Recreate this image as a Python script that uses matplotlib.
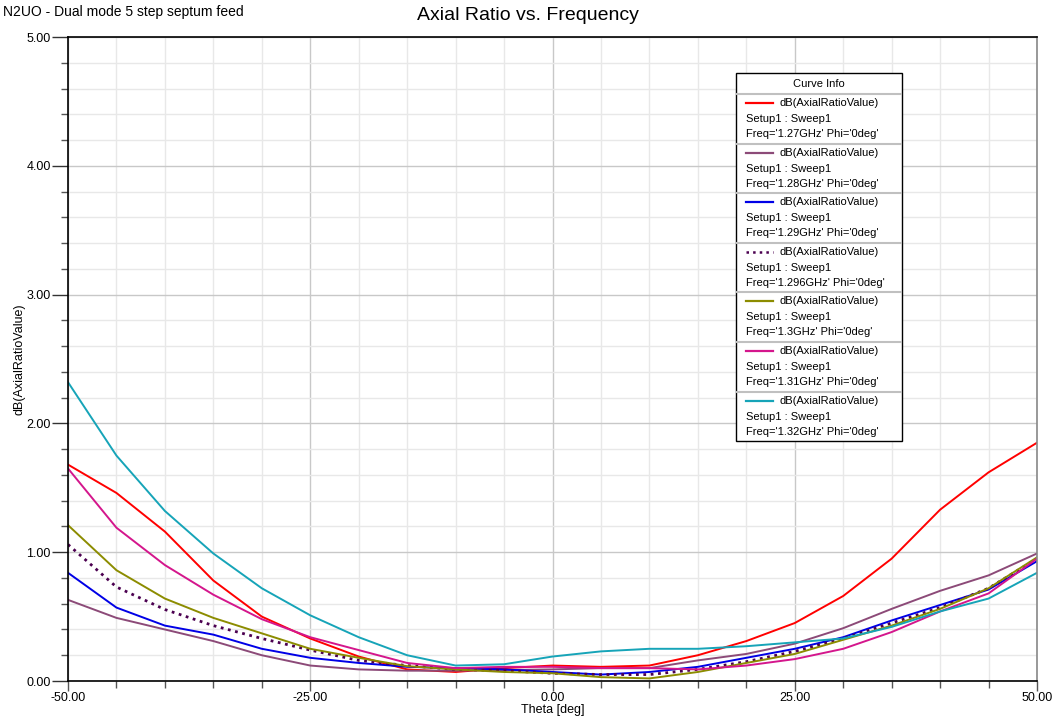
import numpy as np
import matplotlib
matplotlib.use("Agg")
import matplotlib.pyplot as plt
from matplotlib.lines import Line2D
from matplotlib.patches import Rectangle
from matplotlib.ticker import MultipleLocator, FormatStrFormatter

plt.rcParams['font.family'] = ['Liberation Sans', 'DejaVu Sans']

theta = [-50, -45, -40, -35, -30, -25, -20, -15, -10, -5, 0,
         5, 10, 15, 20, 25, 30, 35, 40, 45, 50]

ar_127 = [1.68, 1.46, 1.16, 0.78, 0.50, 0.33, 0.19, 0.09, 0.07, 0.10, 0.12,
          0.11, 0.12, 0.20, 0.31, 0.45, 0.66, 0.95, 1.33, 1.62, 1.85]
ar_128 = [0.63, 0.49, 0.40, 0.31, 0.20, 0.12, 0.09, 0.08, 0.08, 0.085, 0.09,
          0.10, 0.10, 0.16, 0.21, 0.29, 0.41, 0.56, 0.70, 0.82, 0.99]
ar_129 = [0.84, 0.57, 0.43, 0.36, 0.25, 0.18, 0.14, 0.11, 0.10, 0.09, 0.07,
          0.05, 0.07, 0.11, 0.18, 0.25, 0.34, 0.47, 0.59, 0.71, 0.93]
ar_1296 = [1.06, 0.73, 0.555, 0.43, 0.33, 0.24, 0.16, 0.12, 0.09, 0.08, 0.06,
           0.05, 0.05, 0.09, 0.15, 0.23, 0.33, 0.45, 0.57, 0.72, 0.95]
ar_130 = [1.21, 0.86, 0.64, 0.49, 0.37, 0.25, 0.18, 0.115, 0.09, 0.07, 0.06,
          0.03, 0.02, 0.07, 0.14, 0.21, 0.32, 0.43, 0.56, 0.72, 0.96]
ar_131 = [1.65, 1.19, 0.90, 0.67, 0.48, 0.34, 0.24, 0.14, 0.10, 0.11, 0.11,
          0.10, 0.10, 0.09, 0.12, 0.17, 0.25, 0.38, 0.54, 0.68, 0.95]
ar_132 = [2.32, 1.75, 1.32, 0.99, 0.72, 0.51, 0.34, 0.20, 0.12, 0.13, 0.19,
          0.23, 0.25, 0.25, 0.27, 0.30, 0.33, 0.42, 0.54, 0.64, 0.84]

freqs = ['1.27GHz', '1.28GHz', '1.29GHz', '1.296GHz', '1.3GHz', '1.31GHz', '1.32GHz']
series = [ar_127, ar_128, ar_129, ar_1296, ar_130, ar_131, ar_132]
colors = ['#ff0000', '#8c4a78', '#0000e6', '#4b0050', '#8c8c00', '#d4168c', '#16a4b8']
styles = ['-', '-', '-', ':', '-', '-', '-']

W, H = 1057, 724
fig = plt.figure(figsize=(W / 100, H / 100), dpi=100)
ax = fig.add_axes([68 / W, 1 - 681 / H, (1037 - 68) / W, (681 - 37) / H])

for vals, c, ls in zip(series, colors, styles):
    lw = 2.0 if ls == ':' else 1.4
    ax.plot(theta, vals, color=c, linestyle=ls, linewidth=lw)

ax.set_xlim(-50, 50)
ax.set_ylim(0, 5)
ax.xaxis.set_major_locator(MultipleLocator(25))
ax.xaxis.set_minor_locator(MultipleLocator(5))
ax.yaxis.set_major_locator(MultipleLocator(1))
ax.yaxis.set_minor_locator(MultipleLocator(0.2))
ax.xaxis.set_major_formatter(FormatStrFormatter('%.2f'))
ax.yaxis.set_major_formatter(FormatStrFormatter('%.2f'))
ax.grid(which='major', color='#c8c8c8', linewidth=1.0)
ax.grid(which='minor', color='#e8e8e8', linewidth=1.0)
ax.set_axisbelow(True)
ax.tick_params(which='both', direction='out', color='#555555', labelsize=9, width=1)
ax.tick_params(axis='x', which='major', length=7.5, pad=0.5)
ax.tick_params(axis='x', which='minor', length=5)
ax.tick_params(axis='y', which='major', length=11.5, pad=1, color='#333333')
ax.tick_params(axis='y', which='minor', length=5)
for side in ['left', 'bottom', 'top']:
    ax.spines[side].set_color('black')
    ax.spines[side].set_linewidth(1.2)
ax.spines['right'].set_color('#888888')
ax.spines['right'].set_linewidth(1.2)

ax.set_xlabel('Theta [deg]', fontsize=9)
ax.xaxis.set_label_coords(0.5, -(704 - 681) / 644)
ax.set_ylabel('dB(AxialRatioValue)', fontsize=9)
ax.yaxis.set_label_coords(-(68 - 26) / 969, 0.5)

fig.text(528 / W, 1 - 15 / H, 'Axial Ratio vs. Frequency', fontsize=14,
         ha='center', va='center')
fig.text(3 / W, 1 - 12 / H, 'N2UO - Dual mode 5 step septum feed', fontsize=10,
         ha='left', va='center')

# legend box ("Curve Info")
def fx(px):
    return px / W

def fy(py):
    return 1 - py / H

box_l, box_r, box_t, box_b = 736, 902, 73, 441
fig.patches.append(Rectangle((fx(box_l), fy(box_b)), fx(box_r) - fx(box_l),
                             fy(box_t) - fy(box_b), transform=fig.transFigure,
                             facecolor='white', edgecolor='black', linewidth=1.0,
                             zorder=5))
fig.text(fx((box_l + box_r) / 2), fy(84), 'Curve Info', fontsize=8,
         ha='center', va='center', zorder=6)
row_h = 49.6
for i, (f, c, ls) in enumerate(zip(freqs, colors, styles)):
    top = 94 + i * row_h
    fig.lines.append(Line2D([fx(box_l + 1), fx(box_r - 1)], [fy(top), fy(top)],
                            transform=fig.transFigure, color='#c0c0c0',
                            linewidth=1.5, zorder=6))
    lw = 1.8 if ls == ':' else 1.6
    fig.lines.append(Line2D([fx(746), fx(773)], [fy(top + 9), fy(top + 9)],
                            transform=fig.transFigure, color=c, linestyle=ls,
                            linewidth=lw, zorder=6))
    fig.text(fx(780), fy(top + 9), 'dB(AxialRatioValue)', fontsize=8,
             ha='left', va='center', zorder=6)
    fig.text(fx(746), fy(top + 25), 'Setup1 : Sweep1', fontsize=8,
             ha='left', va='center', zorder=6)
    fig.text(fx(746), fy(top + 40), "Freq='%s' Phi='0deg'" % f, fontsize=8,
             ha='left', va='center', zorder=6)

fig.savefig('out.png', dpi=100)
